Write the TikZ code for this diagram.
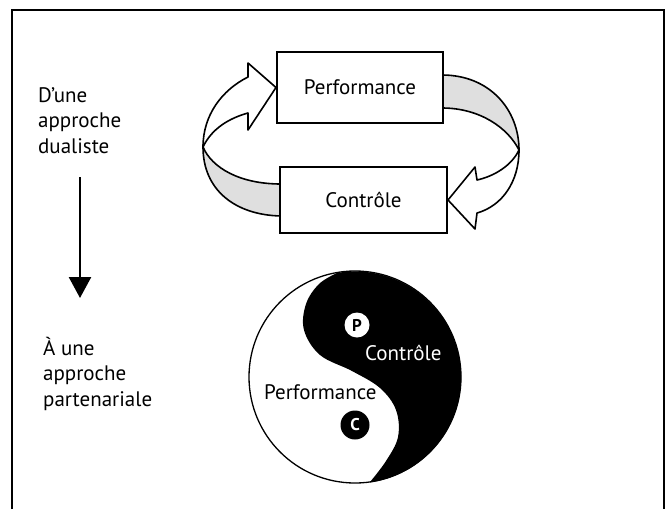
\documentclass[tikz,border=0pt]{standalone}
\usepackage{fontspec}
\setmainfont{PT Sans}
\usetikzlibrary{arrows.meta,backgrounds}
\begin{document}
\begin{tikzpicture}[x=1pt,y=-1pt,
  txt/.style={font=\fontsize{21}{25.5}\selectfont, inner sep=0pt},
  box/.style={draw, line width=2pt, fill=white, inner sep=0pt, font=\fontsize{21}{24}\selectfont},
  ribbon/.style={draw, line width=1.6pt, line join=round},
  dot/.style={circle, inner sep=0pt, font=\fontsize{17}{20}\selectfont\bfseries}
]
\useasboundingbox (0,0) rectangle (666,509);
% frame
\draw[line width=2.5pt] (12,509) -- (12,10) -- (664,10) -- (664,509);

% boxes
\node[box, minimum width=166pt, minimum height=71pt] (perf) at (360,87.5) {Performance};
\node[box, minimum width=167pt, minimum height=66pt] (ctrl) at (363.5,200) {Contrôle};

\begin{scope}[on background layer]
% left ribbon: white arrow part
\path[ribbon, fill=white] (203,147) .. controls (203,115) and (222,90) .. (248,77)
   -- (248,63) -- (perf.west) -- (248,130) -- (248,113)
   .. controls (230,118) and (212,128) .. (203,147) -- cycle;
% left ribbon: grey part
\path[ribbon, fill=gray!25] (203,147) .. controls (212,168) and (240,184) .. (281,184)
   -- (281,216) .. controls (235,215) and (203,190) .. (203,147) -- cycle;
% right ribbon: grey part
\path[ribbon, fill=gray!25] (442,75) .. controls (490,75) and (519,110) .. (519,150)
   .. controls (508,128) and (480,108) .. (442,108) -- cycle;
% right ribbon: white arrow part
\path[ribbon, fill=white] (519,150) .. controls (512,165) and (495,176) .. (477,180)
   -- (475,167) -- (ctrl.east) -- (475,229) -- (477,213)
   .. controls (502,206) and (519,182) .. (519,150) -- cycle;
\end{scope}

% left texts and arrow
\node[txt, align=left, anchor=north west] (t1) at (38,87) {D’une\\approche\\dualiste};
\node[txt, align=left, anchor=north west] (t2) at (43,337) {À une\\approche\\partenariale};
\coordinate (a1) at (80,177);
\coordinate (a2) at (80,298);
\draw[line width=2.5pt, -{Triangle[width=22pt,length=21pt]}] (a1) -- (a2);

% yin-yang
\fill[black] (337,273) arc[start angle=-99.8, end angle=81.8, radius=106]
  -- plot[smooth, tension=0.6] coordinates {(370,482) (386,461) (398,437) (396,410) (380,388) (352,371) (320,355) (304,330) (306,304) (319,284) (337,273)} -- cycle;
\node[circle, draw, line width=1.3pt, minimum size=212pt, inner sep=0pt] (yy) at (355,377) {};
\node[dot, fill=white, minimum size=25pt] (p) at (357,325) {P};
\node[dot, fill=black, text=white, minimum size=29pt] (c) at (355,425) {C};
\node[txt, text=white, anchor=base west] (yc) at (365,360) {Contrôle};
\node[txt, anchor=base west] (yp) at (264,399) {Performance};
\end{tikzpicture}
\end{document}
